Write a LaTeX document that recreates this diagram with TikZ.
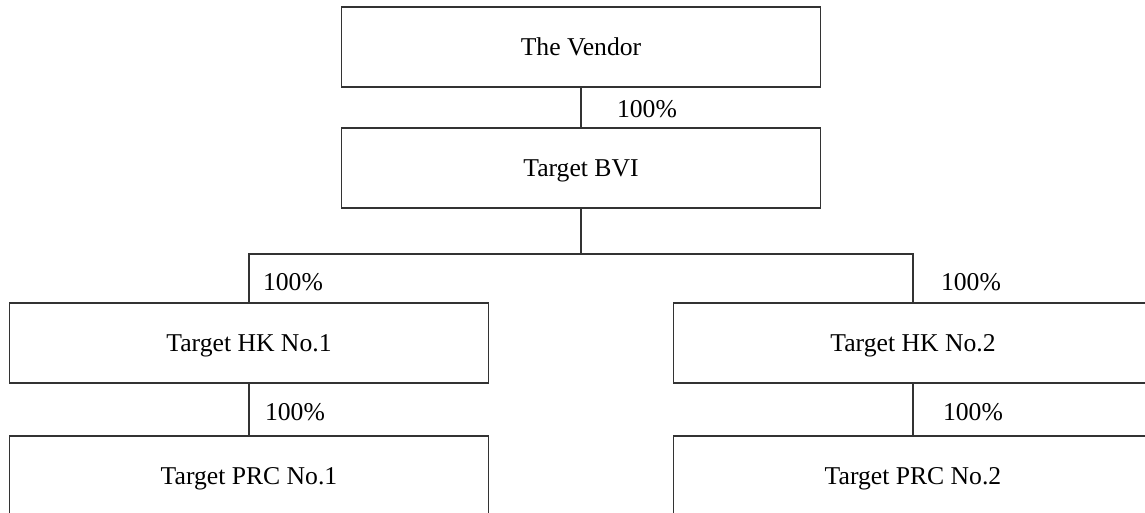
\documentclass[tikz,border=0pt]{standalone}
\usepackage{fontspec}
\setmainfont{Liberation Serif}
\tikzset{
    entity/.style={draw=black!80, line width=.6pt, minimum width=9.6cm, minimum height=1.6cm, inner sep=0pt, text depth=0pt, font=\fontsize{14.6}{17}\selectfont},
    share/.style={font=\fontsize{14.6}{17}\selectfont, inner sep=0pt},
    link/.style={draw=black!80, line width=.6pt}
}
\begin{document}
\begin{tikzpicture}[x=0.02cm, y=-0.02cm]
    \useasboundingbox (0,0) rectangle (1145,512);
    \clip (0,0) rectangle (1145,512);

    \node[entity] (vendor) at (581,47) {The Vendor};
    \node[entity] (bvi) at (581,168) {Target BVI};
    \node[entity] (hka) at (249,343) {Target HK No.1};
    \node[entity] (hkb) at (913,343) {Target HK No.2};
    \node[entity] (prca) at (249,476) {Target PRC No.1};
    \node[entity] (prcb) at (913,476) {Target PRC No.2};
    \coordinate (split) at (581,254);

    \draw[link] (vendor.south)--(bvi.north);
    \draw[link] (bvi.south)--(split);
    \draw[link] (hka.north)|-(split)-|(hkb.north);
    \draw[link] (hka.south)--(prca.north);
    \draw[link] (hkb.south)--(prcb.north);

    \foreach \n/\x/\y in {v/647/109,a/293/282,b/971/282,c/295/412,d/973/412}
    {
        \node[share] (pct\n) at (\x,\y) {100\%};
    }
\end{tikzpicture}
\end{document}
